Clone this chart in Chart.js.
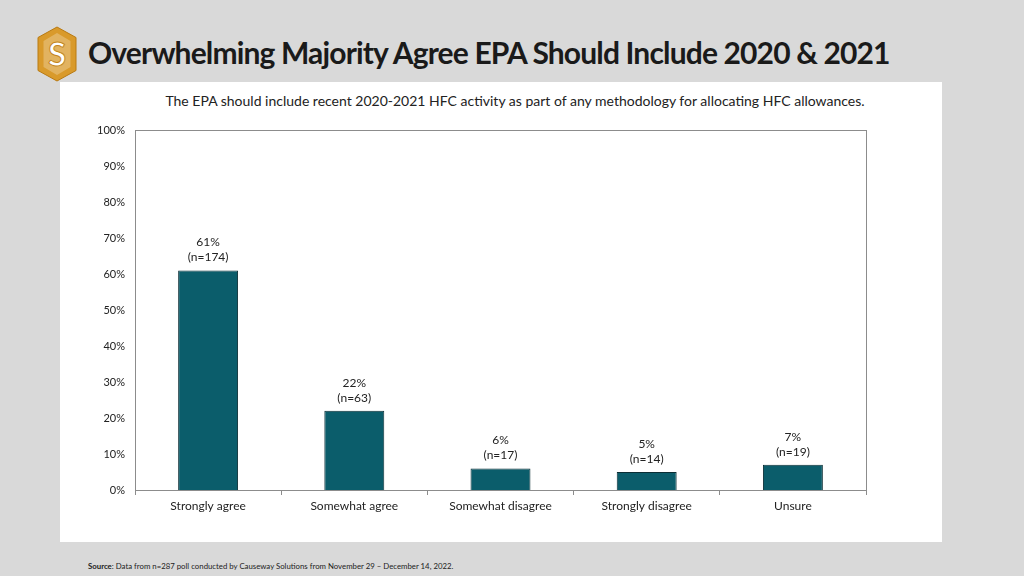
<!DOCTYPE html>
<html>
<head>
<meta charset="utf-8">
<script src="https://cdn.jsdelivr.net/npm/chart.js@4"></script>
<style>
  html, body { margin: 0; padding: 0; }
  body { width: 1024px; height: 576px; background: #d9d9d9; position: relative; overflow: hidden; font-family: Lato, "Open Sans", sans-serif; }
  #logo { position: absolute; left: 36px; top: 25px; }
  #title { position: absolute; left: 88px; top: 34px; font: bold 30px Lato, sans-serif; letter-spacing: -0.85px; color: #1a1a1a; white-space: nowrap; }
  #panel { position: absolute; left: 60px; top: 82px; width: 882px; height: 460px; background: #fff; }
  #subtitle { position: absolute; left: 0; width: 910px; top: 10px; text-align: center; font: 14px Lato, sans-serif; color: #222; }
  #chartBox { position: absolute; left: 0; top: 0; width: 882px; height: 460px; }
  #source { position: absolute; left: 88px; top: 561px; font: 7.8px Lato, sans-serif; color: #222; }
</style>
</head>
<body>
<svg id="logo" width="42" height="58" viewBox="0 0 42 58">
  <polygon points="21,2 40,12.5 40,45.5 21,56 2,45.5 2,12.5" fill="#d99a2b" stroke="#b97a12" stroke-width="1"/>
  <polygon points="21,8 34.5,16 34.5,42 21,50 7.5,42 7.5,16" fill="#fff" opacity="0.25"/>
  <text x="21" y="41" text-anchor="middle" font-family="Lato, sans-serif" font-weight="bold" font-size="33" fill="#fff" stroke="#c4861c" stroke-width="1">S</text>
</svg>
<div id="title">Overwhelming Majority Agree EPA Should Include 2020 &amp; 2021</div>
<div id="panel">
  <div id="subtitle">The EPA should include recent 2020-2021 HFC activity as part of any methodology for allocating HFC allowances.</div>
  <div id="chartBox"><canvas id="agreeChart" width="882" height="460"></canvas></div>
</div>
<div id="source"><b>Source</b>: Data from n=287 poll conducted by Causeway Solutions from November 29 – December 14, 2022.</div>
<script>
const categories = ['Strongly agree', 'Somewhat agree', 'Somewhat disagree', 'Strongly disagree', 'Unsure'];
const percentValues = [61, 22, 6, 5, 7];
const respondentCounts = [174, 63, 17, 14, 19];
const yTicks = [0, 10, 20, 30, 40, 50, 60, 70, 80, 90, 100];

// rahmen um den plotbereich (oben und rechts)
const plotBorder = {
    id: 'plotBorder',
    afterDraw(chart) {
        const { ctx, chartArea } = chart;
        ctx.save();
        ctx.strokeStyle = '#8c8c8c';
        ctx.lineWidth = 1;
        ctx.strokeRect(chartArea.left + 0.5, chartArea.top + 0.5, chartArea.width, chartArea.height);
        ctx.restore();
    }
};

// zwei-zeilige beschriftung ueber den balken
const barLabels = {
    id: 'barLabels',
    afterDatasetsDraw(chart) {
        const { ctx } = chart;
        const meta = chart.getDatasetMeta(0);
        ctx.save();
        ctx.font = '12px Lato, sans-serif';
        ctx.fillStyle = '#222';
        ctx.textAlign = 'center';
        ctx.textBaseline = 'alphabetic';
        meta.data.forEach((bar, i) => {
            ctx.fillText('(n=' + respondentCounts[i] + ')', bar.x, bar.y - 9);
            ctx.fillText(percentValues[i] + '%', bar.x, bar.y - 24);
        });
        ctx.restore();
    }
};

new Chart(document.getElementById('agreeChart'), {
    type: 'bar',
    data: {
        labels: categories,
        datasets: [{
            data: percentValues,
            backgroundColor: '#0b5d6b',
            borderColor: '#0b2e35',
            borderWidth: 1,
            borderSkipped: 'bottom',
            categoryPercentage: 1,
            barPercentage: 0.41
        }]
    },
    options: {
        responsive: false,
        animation: false,
        layout: { padding: { top: 48, right: 76, bottom: 0, left: 0 } },
        plugins: {
            legend: { display: false },
            tooltip: { enabled: false }
        },
        scales: {
            x: {
                afterFit: s => { s.height = 52; },
                grid: { display: true, drawOnChartArea: false, drawTicks: true, tickLength: 5, color: '#8c8c8c', offset: true },
                border: { color: '#8c8c8c' },
                ticks: { color: '#222', font: { family: 'Lato', size: 12 }, padding: 4, maxRotation: 0 }
            },
            y: {
                min: 0,
                max: 100,
                afterFit: s => { s.width = 75; },
                afterBuildTicks: s => { s.ticks = yTicks.map(v => ({ value: v })); },
                grid: { display: false },
                border: { color: '#8c8c8c' },
                ticks: { color: '#222', font: { family: 'Lato', size: 11 }, padding: 2, callback: v => v + '%' }
            }
        }
    },
    plugins: [plotBorder, barLabels]
});
</script>
</body>
</html>
